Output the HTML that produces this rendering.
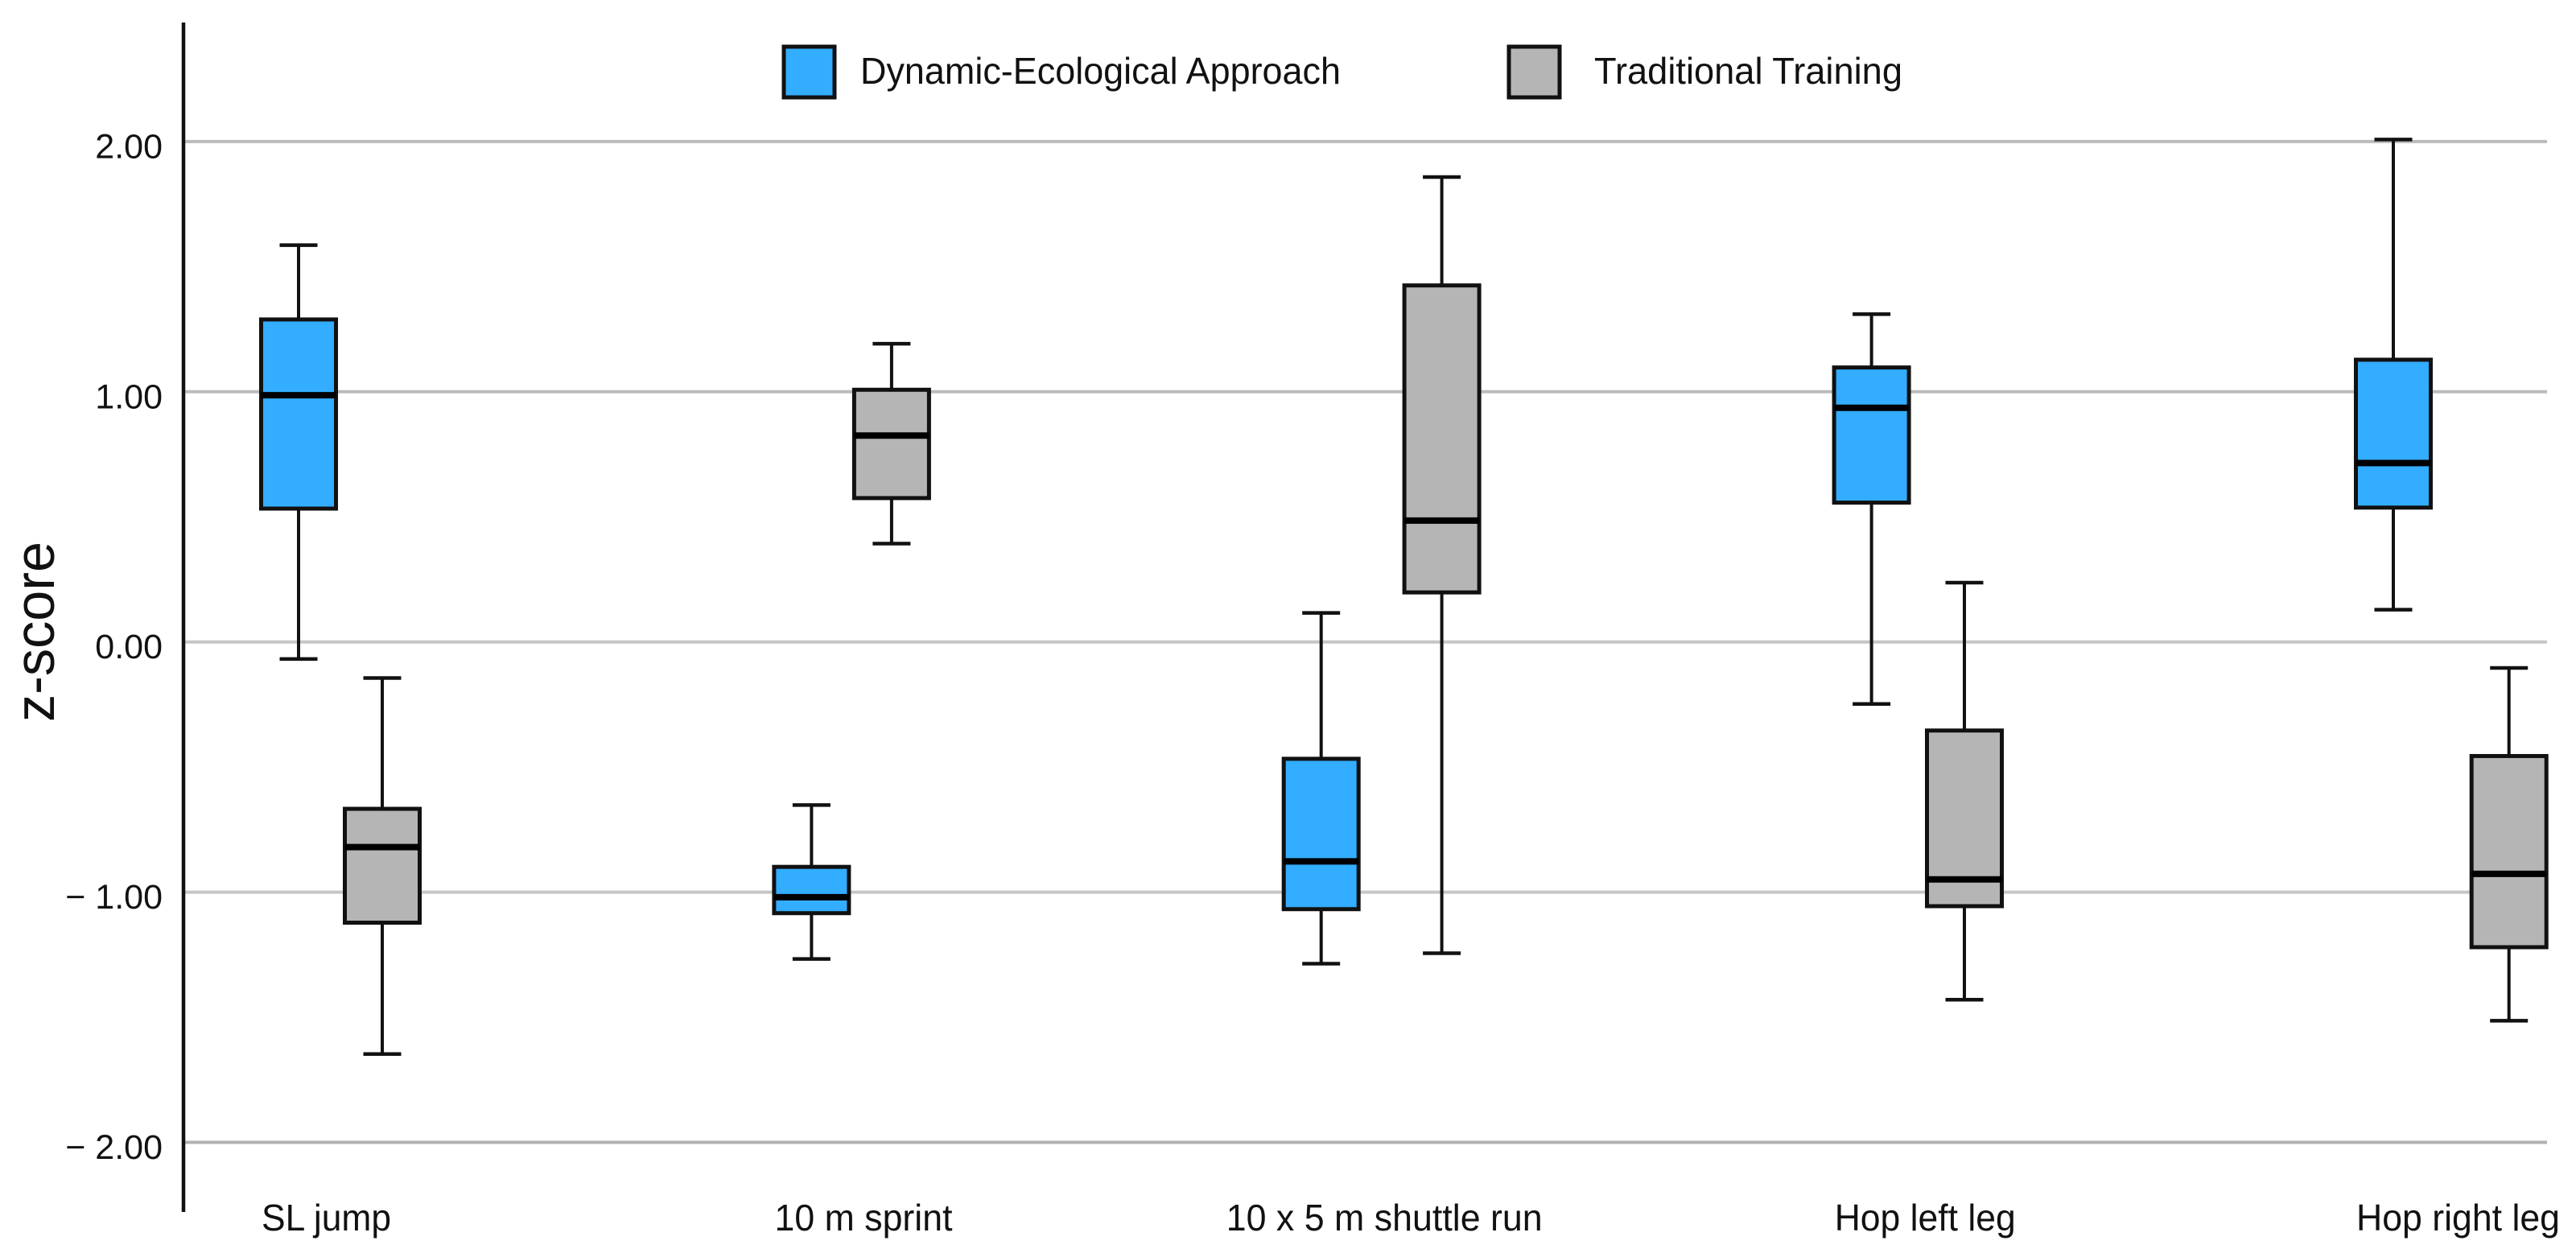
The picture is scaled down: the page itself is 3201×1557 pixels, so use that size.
<!DOCTYPE html>
<html lang="en">
<head>
<meta charset="utf-8">
<title>Z-score box plot</title>
<style>
html,body{margin:0;padding:0;background:#fff;}
svg{display:block;font-family:"Liberation Sans",Arial,sans-serif;}
text{fill:#111;}
</style>
</head>
<body>
<svg id="chart" xmlns="http://www.w3.org/2000/svg" width="3201" height="1557" viewBox="0 0 3201 1557">
  <rect x="0" y="0" width="3201" height="1557" fill="#ffffff"/>
  <g id="grid"></g>
  <g id="boxes"></g>
  <line x1="228" y1="28" x2="228" y2="1506" stroke="#111" stroke-width="4.5"/>
  <g id="yticks"></g>
  <g id="xlabels"></g>
  <text transform="translate(67,897) rotate(-90)" font-size="70" textLength="224" lengthAdjust="spacingAndGlyphs">z-score</text>
  <g>
    <g>
      <rect x="974" y="58" width="63" height="63" fill="#33adff" stroke="#111" stroke-width="5"/>
      <text x="1069" y="104" font-size="46" textLength="597" lengthAdjust="spacingAndGlyphs">Dynamic-Ecological Approach</text>
    </g>
    <g>
      <rect x="1875" y="58" width="63" height="63" fill="#b5b5b5" stroke="#111" stroke-width="5"/>
      <text x="1981" y="104" font-size="46" textLength="383" lengthAdjust="spacingAndGlyphs">Traditional Training</text>
    </g>
  </g>
</svg>
<script>
const categories = ["SL jump", "10 m sprint", "10 x 5 m shuttle run", "Hop left leg", "Hop right leg"];
const tickValues = [2, 1, 0, -1, -2];
const tickLabels = ["2.00", "1.00", "0.00", "\u2212 1.00", "\u2212 2.00"];

const dynamicHigh   = [1.586, -0.652, 0.116, 1.310, 2.008];
const dynamicQ3     = [1.289, -0.899, -0.467, 1.097, 1.128];
const dynamicMedian = [0.986, -1.020, -0.877, 0.936, 0.715];
const dynamicQ1     = [0.533, -1.084, -1.068, 0.557, 0.537];
const dynamicLow    = [-0.068, -1.267, -1.286, -0.248, 0.129];

const traditionalHigh   = [-0.144, 1.192, 1.858, 0.237, -0.104];
const traditionalQ3     = [-0.667, 1.008, 1.425, -0.354, -0.456];
const traditionalMedian = [-0.820, 0.825, 0.485, -0.949, -0.927];
const traditionalQ1     = [-1.122, 0.575, 0.198, -1.056, -1.220];
const traditionalLow    = [-1.647, 0.393, -1.244, -1.430, -1.514];

const NS = "http://www.w3.org/2000/svg";

function yScale(v) {
  return 797.7 - 310.9 * v;
}

function xScale(categoryIndex, seriesKey) {
  const layout = {
    dynamic: { 0: 371, 1: 1008.4, 2: 1641.7, 3: 2325.6, 4: 2974 },
    traditional: { 0: 475, 1: 1107.9, 2: 1791.6, 3: 2441, 4: 3117.7 }
  };
  return layout[seriesKey][categoryIndex];
}

function labelBox(categoryIndex) {
  const layout = {
    0: { x: 325, w: 161 },
    1: { x: 962.5, w: 221 },
    2: { x: 1523.7, w: 393 },
    3: { x: 2279.7, w: 225 },
    4: { x: 2928, w: 253 }
  };
  return layout[categoryIndex];
}

function gridStroke(v) {
  if (v === 0 || v === -1) return "#c6c6c6";
  if (v === -2) return "#b2b2b2";
  return "#bbbbbb";
}

function make(tag, attrs) {
  const el = document.createElementNS(NS, tag);
  Object.keys(attrs).forEach(function (k) { el.setAttribute(k, attrs[k]); });
  return el;
}

const gridG = document.getElementById("grid");
const tickG = document.getElementById("yticks");
tickValues.forEach(function (v, i) {
  const y = yScale(v);
  const line = make("line", { x1: 230, x2: 3165, y1: y, y2: y, stroke: gridStroke(v), "stroke-width": 4 });
  
  
  gridG.appendChild(line);
  const t = make("text", { x: 202, y: y + 20.5, "font-size": 43, "text-anchor": "end" });
  
  
  t.textContent = tickLabels[i];
  tickG.appendChild(t);
});

const xlabelG = document.getElementById("xlabels");
categories.forEach(function (c, i) {
  const box = labelBox(i);
  const t = make("text", { x: box.x, y: 1529, "font-size": 46, textLength: box.w, lengthAdjust: "spacingAndGlyphs" });
  
  
  t.textContent = c;
  xlabelG.appendChild(t);
});

const boxesG = document.getElementById("boxes");
const HALF_BOX = 46.5;
const HALF_CAP = 23.5;
const INK = "#111";

function drawBox(i, seriesKey, fill, hi, q3, med, q1, lo) {
  const cx = xScale(i, seriesKey);
  const g = make("g", {});
  
  

  const whisker = make("path", {
    d: "M" + cx + " " + yScale(hi) + "V" + yScale(q3) + "M" + cx + " " + yScale(q1) + "V" + yScale(lo),
    stroke: INK, "stroke-width": 4, fill: "none"
  });
  
  
  g.appendChild(whisker);

  const caps = make("path", {
    d: "M" + (cx - HALF_CAP) + " " + yScale(hi) + "H" + (cx + HALF_CAP) + "M" + (cx - HALF_CAP) + " " + yScale(lo) + "H" + (cx + HALF_CAP),
    stroke: INK, "stroke-width": 4.5, fill: "none"
  });
  
  
  g.appendChild(caps);

  const rect = make("rect", {
    x: cx - HALF_BOX, y: yScale(q3), width: HALF_BOX * 2, height: yScale(q1) - yScale(q3),
    fill: fill, stroke: INK, "stroke-width": 5
  });
  
  
  g.appendChild(rect);

  const median = make("line", {
    x1: cx - HALF_BOX, x2: cx + HALF_BOX, y1: yScale(med), y2: yScale(med),
    stroke: "#000", "stroke-width": 8
  });
  
  
  g.appendChild(median);

  boxesG.appendChild(g);
}

categories.forEach(function (c, i) {
  drawBox(i, "dynamic", "#33adff", dynamicHigh[i], dynamicQ3[i], dynamicMedian[i], dynamicQ1[i], dynamicLow[i]);
  drawBox(i, "traditional", "#b5b5b5", traditionalHigh[i], traditionalQ3[i], traditionalMedian[i], traditionalQ1[i], traditionalLow[i]);
});
</script>
</body>
</html>
